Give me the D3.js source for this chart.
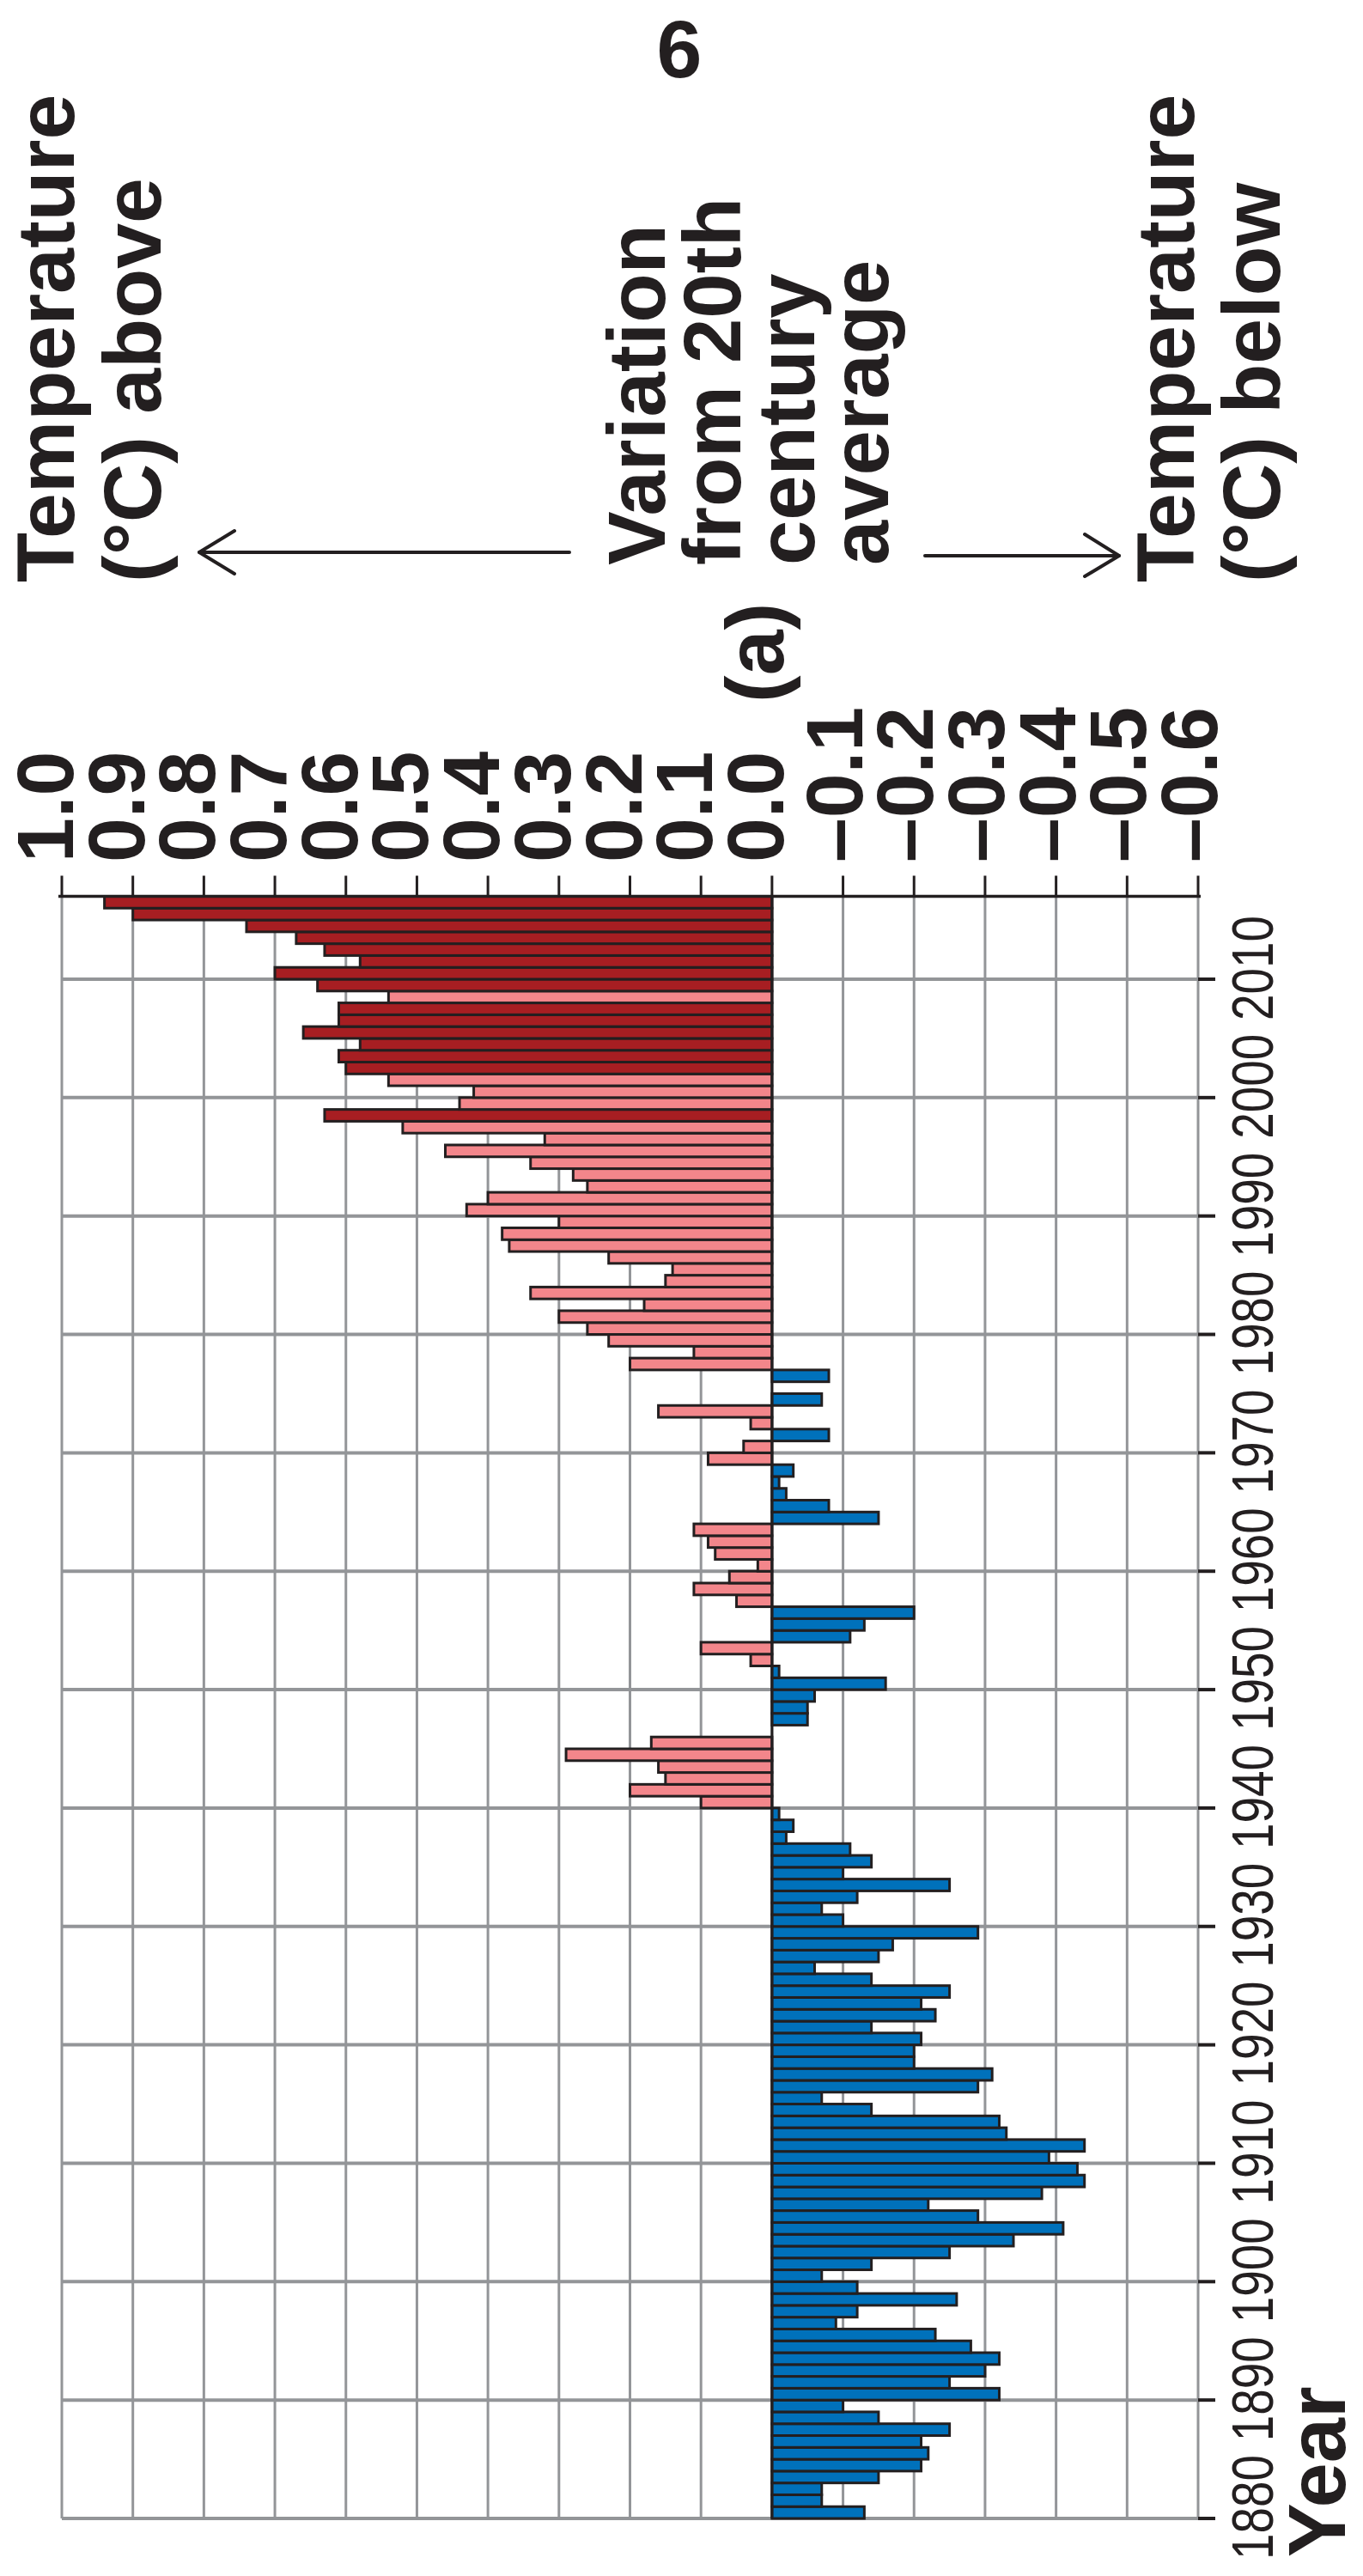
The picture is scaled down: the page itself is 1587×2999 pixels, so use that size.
<!DOCTYPE html>
<html><head><meta charset="utf-8">
<script src="https://cdn.jsdelivr.net/npm/d3@7"></script>
<style>
body{margin:0;background:#fff}
svg{display:block;background:#fff}
text{font-family:"Liberation Sans",Arial,Helvetica,sans-serif;fill:#231f20}
</style>
</head><body>
<svg id="chart" width="1587" height="2999"></svg>
<script>
// ---- data ----
const firstYear = 1880, lastYear = 2016;
const years = d3.range(firstYear, lastYear + 1);
const anomalies = [
  -0.13,-0.07,-0.07,-0.15,-0.21,-0.22,-0.21,-0.25,-0.15,-0.10, // 1880s
  -0.32,-0.25,-0.30,-0.32,-0.28,-0.23,-0.09,-0.12,-0.26,-0.12, // 1890s
  -0.07,-0.14,-0.25,-0.34,-0.41,-0.29,-0.22,-0.38,-0.44,-0.43, // 1900s
  -0.39,-0.44,-0.33,-0.32,-0.14,-0.07,-0.29,-0.31,-0.20,-0.20, // 1910s
  -0.21,-0.14,-0.23,-0.21,-0.25,-0.14,-0.06,-0.15,-0.17,-0.29, // 1920s
  -0.10,-0.07,-0.12,-0.25,-0.10,-0.14,-0.11,-0.02,-0.03,-0.01, // 1930s
   0.10, 0.20, 0.15, 0.16, 0.29, 0.17, 0.00,-0.05,-0.05,-0.06, // 1940s
  -0.16,-0.01, 0.03, 0.10,-0.11,-0.13,-0.20, 0.05, 0.11, 0.06, // 1950s
   0.02, 0.08, 0.09, 0.11,-0.15,-0.08,-0.02,-0.01,-0.03, 0.09, // 1960s
   0.04,-0.08, 0.03, 0.16,-0.07, 0.00,-0.08, 0.20, 0.11, 0.23, // 1970s
   0.26, 0.30, 0.18, 0.34, 0.15, 0.14, 0.23, 0.37, 0.38, 0.30, // 1980s
   0.43, 0.40, 0.26, 0.28, 0.34, 0.46, 0.32, 0.52, 0.63, 0.44, // 1990s
   0.42, 0.54, 0.60, 0.61, 0.58, 0.66, 0.61, 0.61, 0.54, 0.64, // 2000s
   0.70, 0.58, 0.63, 0.67, 0.74, 0.90, 0.94                     // 2010s
];
const valueTicks = [1.0,0.9,0.8,0.7,0.6,0.5,0.4,0.3,0.2,0.1,0.0,-0.1,-0.2,-0.3,-0.4,-0.5,-0.6];
const valueTickLabels = ["1.0","0.9","0.8","0.7","0.6","0.5","0.4","0.3","0.2","0.1","0.0",
                         "\u20130.1","\u20130.2","\u20130.3","\u20130.4","\u20130.5","\u20130.6"];
const yearTicks = [1880,1890,1900,1910,1920,1930,1940,1950,1960,1970,1980,1990,2000,2010];
const yearTickLabels = ["1880","1890","1900","1910","1920","1930","1940","1950","1960","1970","1980","1990","2000","2010"];

const data = years.map((yr, i) => ({year: yr, value: anomalies[i]}));

// ---- styles ----
const INK = "#231f20", GRID = "#939598";
const DARK = "#a71e22", PINK = "#f3868b", BLUE = "#0071bb";
const colorOf = v => v < 0 ? BLUE : (v >= 0.55 ? DARK : PINK);

// ---- scales ----
const x = d3.scaleLinear().domain([1.0, -0.6]).range([72, 1395]);
const y = d3.scaleLinear().domain([1880, 2017]).range([2932, 1043.5]);

const svg = d3.select("#chart");

// grid: vertical lines at each value tick
svg.append("g").selectAll("line").data(valueTicks).join("line")
  .attr("x1", d => x(d)).attr("x2", d => x(d))
  .attr("y1", y(2017)).attr("y2", y(1880))
  .attr("stroke", GRID).attr("stroke-width", 3);

// grid: horizontal lines at each decade
svg.append("g").selectAll("line").data(yearTicks).join("line")
  .attr("x1", x(1.0)).attr("x2", x(-0.6))
  .attr("y1", d => y(d)).attr("y2", d => y(d))
  .attr("stroke", GRID).attr("stroke-width", 4);

// year axis tick marks (right)
svg.append("g").selectAll("line").data(yearTicks).join("line")
  .attr("x1", x(-0.6)).attr("x2", x(-0.6) + 20)
  .attr("y1", d => y(d)).attr("y2", d => y(d))
  .attr("stroke", INK).attr("stroke-width", 4);

// bars
svg.append("g").selectAll("rect").data(data).join("rect")
  .attr("x", d => Math.min(x(d.value), x(0)))
  .attr("width", d => Math.abs(x(d.value) - x(0)))
  .attr("y", d => y(d.year + 1))
  .attr("height", d => y(d.year) - y(d.year + 1))
  .attr("fill", d => colorOf(d.value))
  .attr("stroke", INK).attr("stroke-width", 3);

// zero line
svg.append("line")
  .attr("x1", x(0)).attr("x2", x(0))
  .attr("y1", y(2017)).attr("y2", y(1880))
  .attr("stroke", INK).attr("stroke-width", 3);

// top value axis
svg.append("line")
  .attr("x1", x(1.0) - 4).attr("x2", x(-0.6) + 3)
  .attr("y1", y(2017)).attr("y2", y(2017))
  .attr("stroke", INK).attr("stroke-width", 3.5);
svg.append("g").selectAll("line").data(valueTicks).join("line")
  .attr("x1", d => x(d)).attr("x2", d => x(d))
  .attr("y1", y(2017) - 24).attr("y2", y(2017))
  .attr("stroke", INK).attr("stroke-width", 3);

// value tick labels (rotated)
svg.append("g").selectAll("text").data(valueTicks).join("text")
  .attr("transform", d => `translate(${x(d) + (d < 0 ? 22 : 13)},1004) rotate(-90)`)
  .attr("text-anchor", "start")
  .attr("font-size", 93).attr("font-weight", "bold")
  .text((d, i) => valueTickLabels[i]);

// year tick labels (rotated, condensed)
svg.append("g").selectAll("text").data(yearTicks).join("text")
  .attr("transform", d => `translate(1482,${y(d) - 13}) rotate(-90)`)
  .attr("text-anchor", "middle")
  .attr("font-size", 68)
  .attr("textLength", 122).attr("lengthAdjust", "spacingAndGlyphs")
  .text((d, i) => yearTickLabels[i]);

// "Year" axis title
svg.append("text")
  .attr("transform", "translate(1566,2977) rotate(-90)")
  .attr("font-size", 94).attr("font-weight", "bold")
  .text("Year");

// page number
svg.append("text")
  .attr("x", 791).attr("y", 90).attr("text-anchor", "middle")
  .attr("font-size", 95).attr("font-weight", "bold")
  .text("6");

// rotated headings
function rotText(bx, sy, str, size) {
  svg.append("text")
    .attr("transform", `translate(${bx},${sy}) rotate(-90)`)
    .attr("text-anchor", "start")
    .attr("font-size", size).attr("font-weight", "bold")
    .text(str);
}
rotText(86, 678, "Temperature", 95);
rotText(187, 678, "(\u00B0C) above", 95);
rotText(774, 658, "Variation", 94);
rotText(862, 658, "from 20th", 94);
rotText(948, 658, "century", 94);
rotText(1034, 658, "average", 94);
rotText(912, 818, "(a)", 95);
rotText(1390, 678, "Temperature", 95);
rotText(1490, 678, "(\u00B0C) below", 95);

// arrows
const arrow = d3.line();
svg.append("path").attr("d", arrow([[663,643],[232,643]]))
  .attr("fill","none").attr("stroke",INK).attr("stroke-width",4).attr("stroke-linecap","round");
svg.append("path").attr("d", arrow([[273,618],[232,643],[273,668]]))
  .attr("fill","none").attr("stroke",INK).attr("stroke-width",4)
  .attr("stroke-linecap","round").attr("stroke-linejoin","round");
svg.append("path").attr("d", arrow([[1077,647],[1303,647]]))
  .attr("fill","none").attr("stroke",INK).attr("stroke-width",4).attr("stroke-linecap","round");
svg.append("path").attr("d", arrow([[1263,622],[1303,647],[1263,671]]))
  .attr("fill","none").attr("stroke",INK).attr("stroke-width",4)
  .attr("stroke-linecap","round").attr("stroke-linejoin","round");
</script>
</body></html>
